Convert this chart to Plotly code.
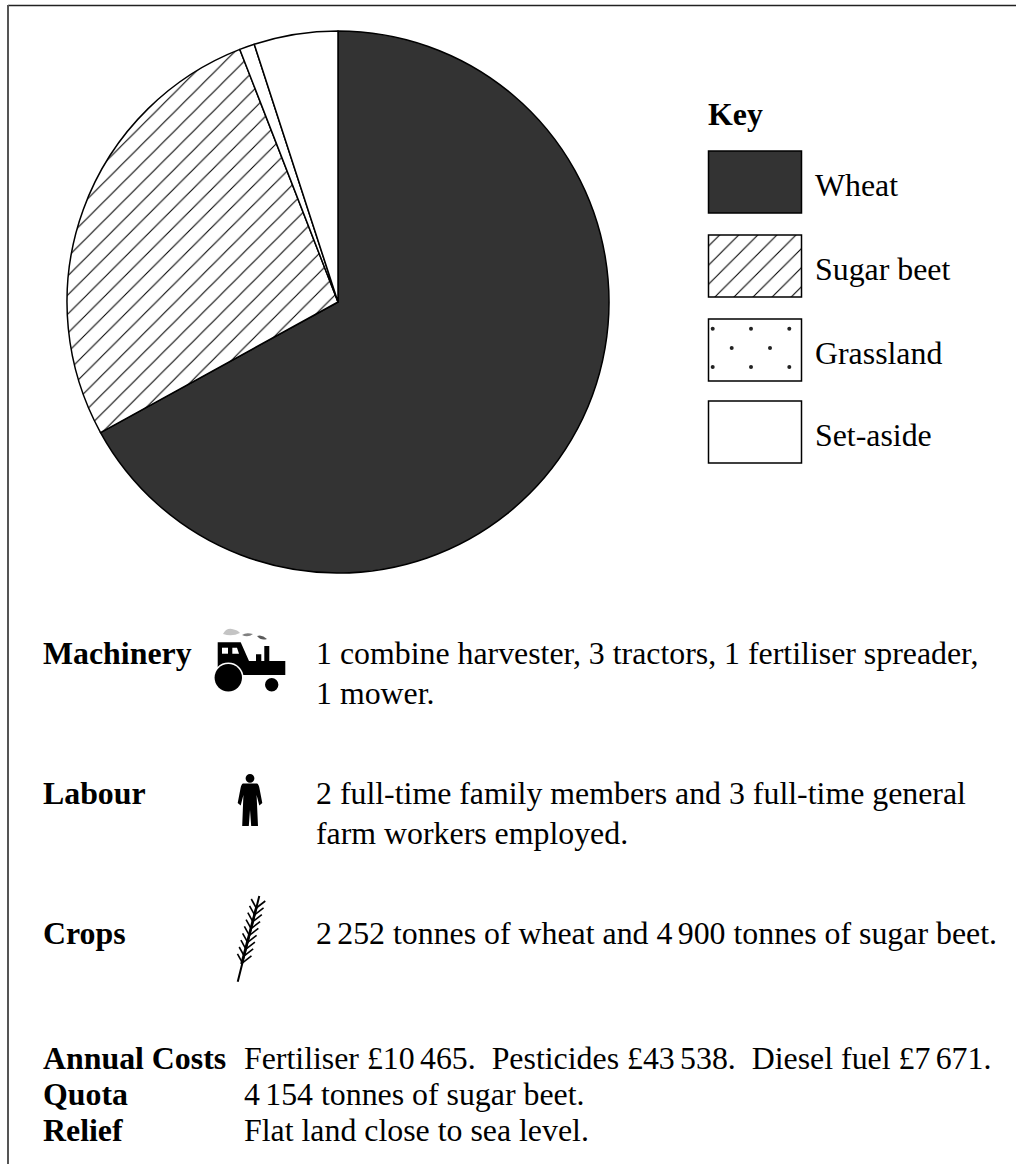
import plotly.graph_objects as go

# ---- data ----
crop_names = ["Wheat", "Sugar beet", "Grassland", "Set-aside"]
crop_shares = [67.0, 27.1, 0.9, 5.0]
crop_colors = ["#333333", "#ffffff", "#ffffff", "#ffffff"]
crop_patterns = ["", "/", "", ""]

GAP = "\u200a\u200a"
key_title = "Key"
rows = [
    ("Machinery", 653, ["1 combine harvester, 3 tractors, 1 fertiliser spreader,", "1 mower."], [653, 693]),
    ("Labour", 793, ["2 full-time family members and 3 full-time general", "farm workers employed."], [793, 833]),
    ("Crops", 933, [f"2{GAP}252 tonnes of wheat and 4{GAP}900 tonnes of sugar beet."], [933]),
]
foot = [
    ("Annual Costs", 1058, f"Fertiliser £10{GAP}465.  Pesticides £43{GAP}538.  Diesel fuel £7{GAP}671."),
    ("Quota", 1094, f"4{GAP}154 tonnes of sugar beet."),
    ("Relief", 1130, "Flat land close to sea level."),
]
# texture dots of the grassland fill, in page pixels
sliver_dots_x = [251.7, 270.7, 289.7]
sliver_dots_y = [58.3, 116, 173.7]
swatch_dots_x = [712.7, 751, 789.3, 731.7, 770, 712.7, 751, 789.3]
swatch_dots_y = [328.7, 328.7, 328.7, 348, 348, 367, 367, 367]

W, H = 1016, 1164
FONT = "Liberation Serif"
FS = 31.85
INK = "#000000"

fig = go.Figure()

# pie: centre (338,302), radius 271
fig.add_trace(go.Pie(
    labels=crop_names, values=crop_shares, sort=False, direction="clockwise", rotation=0,
    textinfo="none", hoverinfo="label+percent", showlegend=False,
    marker=dict(colors=crop_colors, line=dict(color=INK, width=1.5),
                pattern=dict(shape=crop_patterns, size=13.5, solidity=0.08,
                             fgcolor="#000000", bgcolor="#ffffff", fillmode="replace")),
    domain=dict(x=[(338-271)/W, (338+271)/W], y=[1-(302+271)/H, 1-(302-271)/H]),
))

# key swatches as bars on a pixel axis
swatch_y = [182, 266, 350, 432]
for i, n in enumerate(crop_names):
    fig.add_trace(go.Bar(
        x=[755], y=[62], base=[swatch_y[i]-31], width=[93],
        marker=dict(color=crop_colors[i], line=dict(color=INK, width=1.5),
                    pattern=dict(shape=crop_patterns[i], size=13.5, solidity=0.08,
                                 fgcolor="#000000", bgcolor="#ffffff", fillmode="replace")),
        showlegend=False, hoverinfo="skip",
    ))

fig.add_trace(go.Scatter(x=sliver_dots_x + swatch_dots_x, y=sliver_dots_y + swatch_dots_y, mode="markers",
                         marker=dict(size=4, color="#222222"), showlegend=False, hoverinfo="skip"))


def label(x, y, text, bold=False):
    fig.add_annotation(x=x-2, y=y, text=f"<b>{text}</b>" if bold else text, showarrow=False,
                       xanchor="left", yanchor="middle", font=dict(family=FONT, size=FS, color=INK))


label(708, 114, key_title, True)
for i, n in enumerate(crop_names):
    label(815, swatch_y[i]+3, n)
for head, hy, lines, ys in rows:
    label(43, hy, head, True)
    for ln, yy in zip(lines, ys):
        label(316, yy, ln)
for head, yy, body in foot:
    label(43, yy, head, True)
    label(244, yy, body)

shapes = []
# page border
shapes.append(dict(type="line", x0=8, y0=5.5, x1=1016, y1=5.5, xref="x", yref="y", line=dict(color="#222222", width=1.5)))
shapes.append(dict(type="line", x0=8, y0=5, x1=8, y1=1164, xref="x", yref="y", line=dict(color="#555555", width=2)))


def path(d, color="#000000"):
    shapes.append(dict(type="path", path=d, xref="x", yref="y", fillcolor=color, line=dict(width=0)))


def disc(cx, cy, r, color="#000000"):
    shapes.append(dict(type="circle", x0=cx-r, y0=cy-r, x1=cx+r, y1=cy+r, xref="x", yref="y",
                       fillcolor=color, line=dict(width=0)))


def stroke(x0, y0, x1, y1, w):
    shapes.append(dict(type="line", x0=x0, y0=y0, x1=x1, y1=y1, xref="x", yref="y",
                       line=dict(color="#000000", width=w)))


# tractor
path("M217.7,642.3 L240.7,642.3 L249,661 L256,661 L256,654.3 L261.3,654.3 L261.3,661 L264.3,661 L264.3,646 "
     "L269.3,646 L269.3,661 L285.3,661 L285.3,675 L240,675 L240,670 L217.7,670 Z")
disc(228.3, 677.7, 15.3, "#ffffff")
disc(228.3, 677.7, 13.7)
disc(271.7, 684.7, 8.2, "#ffffff")
disc(271.7, 684.7, 6.7)
path("M222,647.7 L228,647.7 L228,653.7 L222,653.7 Z", "#ffffff")
path("M232.3,647.7 L237,647.7 L239,653.7 L232.3,653.7 Z", "#ffffff")
path("M223,634 Q226,628 232,629 Q238,630 240,633 Q232,637 223,634 Z", "#c4c4c4")
path("M242,635 Q246,632 253,634 Q248,638 242,635 Z", "#808080")
path("M257,636 Q262,634 267,639 Q261,641 257,636 Z", "#5a5a5a")
# person
disc(250, 778.3, 4.4)
path("M243,783.5 L257,783.5 Q258.8,784 259.6,789 L262.3,803 L259.3,805.5 L256.6,795 L258,826 L251.2,826 "
     "L250,810 L248.8,826 L242.2,826 L243.4,795 L240.7,805.5 L237.7,803 L240.4,789 Q241.2,784 243,783.5 Z")
# wheat
stroke(237.7, 981.7, 259.3, 896, 2)
stroke(241.5, 964, 256.5, 907, 2.6)
for t in [0.22, 0.30, 0.38, 0.46, 0.54, 0.62, 0.70, 0.78, 0.86]:
    xx = 237.7 + (259.3-237.7)*t
    yy = 981.7 + (896-981.7)*t
    stroke(xx, yy, xx-5, yy-9, 1.6)
    stroke(xx, yy, xx+9, yy-7, 1.6)

fig.update_layout(
    width=W, height=H, margin=dict(l=0, r=0, t=0, b=0), paper_bgcolor="#ffffff", plot_bgcolor="rgba(0,0,0,0)",
    shapes=shapes, barmode="overlay", showlegend=False,
    xaxis=dict(range=[0, W], visible=False, domain=[0, 1], fixedrange=True),
    yaxis=dict(range=[H, 0], visible=False, domain=[0, 1], fixedrange=True),
)

fig.write_html("out.html", config={"displayModeBar": False}, post_script="document.body.style.margin='0';")
